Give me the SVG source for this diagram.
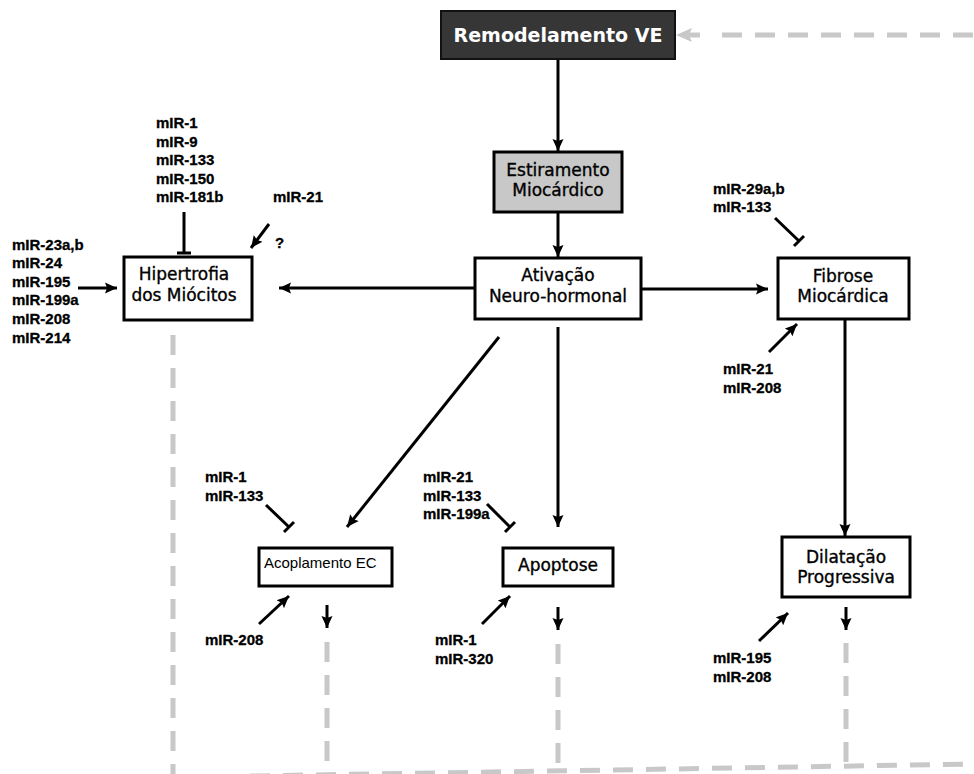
<svg xmlns="http://www.w3.org/2000/svg" width="974" height="774" viewBox="0 0 974 774">
<style>
.box{fill:#fff;stroke:#000;stroke-width:3}
.lbl{font-family:"DejaVu Sans",Verdana,sans-serif;font-size:17px;fill:#000;stroke:#000;stroke-width:0.35;text-anchor:middle}
.mir{font-family:"Liberation Sans",Arial,sans-serif;font-size:15px;font-weight:bold;fill:#000;stroke:#000;stroke-width:0.3}
.ln{stroke:#000;stroke-width:3;fill:none}
.arr{stroke:#000;stroke-width:3;fill:none;marker-end:url(#ah)}
.dash{stroke:#c8c8c8;stroke-width:5;fill:none;stroke-dasharray:20 13}
</style>
<defs>
<marker id="ah" markerUnits="userSpaceOnUse" markerWidth="13" markerHeight="12" refX="12" refY="6" orient="auto">
<path d="M0,0.5 L12,6 L0,11.5 L2,6 z" fill="#000"/>
</marker>
</defs>
<rect width="974" height="774" fill="#fff"/>

<g id="connectors">
<!-- grey feedback -->
<path class="dash" d="M973,35 H718"/>
<path d="M676,35 L692,28 L689,35 L692,42 z" fill="#c8c8c8"/>
<path d="M688,35 H700" stroke="#c8c8c8" stroke-width="5"/>
<path class="dash" d="M173,335 V774"/>
<path class="dash" d="M327,642 V772"/>
<path class="dash" d="M558,644 V770"/>
<path class="dash" d="M846,643 V768"/>
<path class="dash" d="M250,776 L974,764"/>
<!-- main flow -->
<path class="arr" d="M558,59 V151"/>
<path class="arr" d="M558,212 V257"/>
<path class="arr" d="M475,288 H279"/>
<path class="arr" d="M641,289 H768"/>
<path class="arr" d="M499,337 L347,527"/>
<path class="arr" d="M558,327 V527"/>
<path class="arr" d="M845,319 V536"/>
<path class="arr" d="M327,605 V628"/>
<path class="arr" d="M558,607 V630"/>
<path class="arr" d="M846,607 V630"/>
<!-- miRNA activators -->
<path class="arr" d="M78,288 H117"/>
<path class="arr" d="M269,224 L251,248"/>
<path class="arr" d="M769,352 L797,324"/>
<path class="arr" d="M759,641 L788,613"/>
<path class="arr" d="M259,624 L289,596"/>
<path class="arr" d="M482,624 L510,596"/>
<!-- miRNA inhibitors -->
<path class="ln" d="M184,212 V253 M177,253 H191"/>
<path class="ln" d="M775,218 L799,241 M794,246 L804,236"/>
<path class="ln" d="M266,505 L289,527 M284,532 L294,522"/>
<path class="ln" d="M487,504 L510,527 M505,532 L515,522"/>
</g>

<g id="remodelamento">
<rect x="441" y="11" width="234" height="48" fill="#363636" stroke="#111" stroke-width="2"/>
<text x="558" y="42" font-family="'DejaVu Sans',Verdana,sans-serif" font-size="19" font-weight="bold" fill="#fff" text-anchor="middle">Remodelamento VE</text>
</g>

<g id="estiramento">
<rect x="494" y="152" width="128" height="60" fill="#c8c8c8" stroke="#000" stroke-width="3"/>
<text class="lbl" x="558" y="176">Estiramento</text>
<text class="lbl" x="558" y="196">Miocárdico</text>
</g>

<g id="ativacao">
<rect class="box" x="475" y="258" width="166" height="61"/>
<text class="lbl" x="558" y="281">Ativação</text>
<text class="lbl" x="558" y="302">Neuro-hormonal</text>
</g>

<g id="hipertrofia">
<rect class="box" x="124" y="257" width="128" height="63"/>
<text class="lbl" x="184" y="280">Hipertrofia</text>
<text class="lbl" x="184" y="301">dos Miócitos</text>
</g>

<g id="fibrose">
<rect class="box" x="778" y="258" width="131" height="61"/>
<text class="lbl" x="843" y="282">Fibrose</text>
<text class="lbl" x="843" y="302">Miocárdica</text>
</g>

<g id="acoplamento">
<rect class="box" x="259" y="548" width="133" height="38"/>
<text x="264" y="568" font-family="'Liberation Sans',Arial,sans-serif" font-size="15" fill="#000">Acoplamento EC</text>
</g>

<g id="apoptose">
<rect class="box" x="503" y="548" width="110" height="38"/>
<text class="lbl" x="558" y="571">Apoptose</text>
</g>

<g id="dilatacao">
<rect class="box" x="782" y="537" width="128" height="60"/>
<text class="lbl" x="846" y="563">Dilatação</text>
<text class="lbl" x="846" y="583">Progressiva</text>
</g>

<g id="mirna-labels">
<text class="mir" x="156" y="128">mIR-1</text>
<text class="mir" x="156" y="147">mIR-9</text>
<text class="mir" x="156" y="165">mIR-133</text>
<text class="mir" x="156" y="184">mIR-150</text>
<text class="mir" x="156" y="202">mIR-181b</text>
<text class="mir" x="273" y="202">mIR-21</text>
<text class="mir" x="275" y="248">?</text>
<text class="mir" x="12" y="250">mIR-23a,b</text>
<text class="mir" x="12" y="268">mIR-24</text>
<text class="mir" x="12" y="287">mIR-195</text>
<text class="mir" x="12" y="305">mIR-199a</text>
<text class="mir" x="12" y="324">mIR-208</text>
<text class="mir" x="12" y="343">mIR-214</text>
<text class="mir" x="713" y="194">mIR-29a,b</text>
<text class="mir" x="713" y="212">mIR-133</text>
<text class="mir" x="723" y="374">mIR-21</text>
<text class="mir" x="723" y="393">mIR-208</text>
<text class="mir" x="205" y="482">mIR-1</text>
<text class="mir" x="205" y="501">mIR-133</text>
<text class="mir" x="205" y="645">mIR-208</text>
<text class="mir" x="423" y="482">mIR-21</text>
<text class="mir" x="423" y="501">mIR-133</text>
<text class="mir" x="423" y="519">mIR-199a</text>
<text class="mir" x="435" y="645">mIR-1</text>
<text class="mir" x="435" y="664">mIR-320</text>
<text class="mir" x="713" y="663">mIR-195</text>
<text class="mir" x="713" y="682">mIR-208</text>
</g>
</svg>
